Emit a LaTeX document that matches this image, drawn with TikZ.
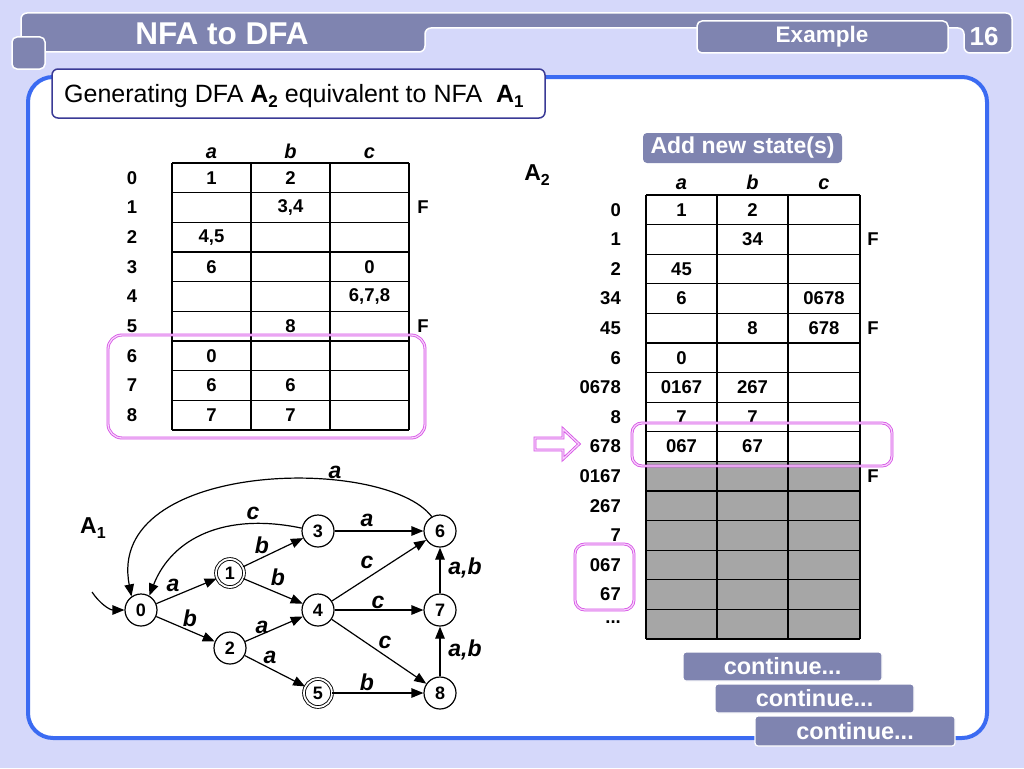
\documentclass[tikz,border=0pt]{standalone}
\usepackage{fontspec}
\setmainfont{Liberation Sans}
\usetikzlibrary{arrows.meta}
\definecolor{bgc}{HTML}{D5D8FA}
\definecolor{hdr}{HTML}{7F84B0}
\definecolor{panelblue}{HTML}{3B6BF2}
\definecolor{subb}{HTML}{3A3A96}
\definecolor{pinkc}{HTML}{D64FE6}
\definecolor{pinkl}{HTML}{F6D2FA}
\definecolor{greyc}{HTML}{A6A6A6}
\newcommand{\mysub}[2]{\raisebox{-0.35ex}{\fontsize{#1}{#1}\selectfont #2}}
\begin{document}
\begin{tikzpicture}[x=1pt,y=-1pt,
  tl/.style={line width=1.1pt, black},
  cell/.style={font=\fontsize{18.5}{20}\selectfont\bfseries, inner sep=0pt},
  hd/.style={font=\fontsize{20}{22}\selectfont\bfseries\itshape, inner sep=0pt, anchor=base},
  st/.style={circle, draw, line width=1.2pt, minimum size=32pt, inner sep=0pt, fill=white, font=\fontsize{18}{20}\selectfont\bfseries},
  acc/.style={st, line width=0.9pt, double, double distance=1.8pt, minimum size=28pt},
  el/.style={font=\fontsize{23}{25}\selectfont\bfseries\itshape, inner sep=0pt},
  arr/.style={-{Triangle[length=12pt,width=9.5pt]}, line width=1.2pt},
  hl/.style={draw=pinkc, double=pinkl, double distance=1.3pt, line width=0.8pt},
  btn/.style={rectangle, rounded corners=3pt, fill=hdr, draw=white, line width=1.2pt, text=white, font=\fontsize{23.5}{25}\selectfont\bfseries}
  ]
% background
\fill[bgc] (0,0) rectangle (1024,768);
\useasboundingbox (0,0) rectangle (1024,768);
% header
\draw[white, line width=1.5pt, fill=hdr, rounded corners=6pt] (21,52) -- (21,13) -- (1012,13) -- (1012,53) -- (964,53) -- (964,28) -- (425,28) -- (425,52) -- cycle;
\node[rectangle, rounded corners=5pt, fill=hdr, draw=white, line width=1.5pt, minimum width=251pt, minimum height=32pt] (extab) at (822.5,37) {};
\draw[white, line width=1.5pt, fill=hdr, rounded corners=5pt] (12,37) rectangle (45,69);
\node[text=white, font=\fontsize{31.5}{33}\selectfont\bfseries] (title) at (222,34) {NFA to DFA};
\node[text=white, font=\fontsize{22.5}{24}\selectfont\bfseries] (extext) at (822,37) {Example};
\node[text=white, font=\fontsize{26}{28}\selectfont\bfseries] (pageno) at (984,37) {16};
% main panel
\draw[panelblue, line width=4pt, fill=white, rounded corners=25pt] (28,77) rectangle (987,738);
% subtitle
\draw[subb, line width=1.5pt, fill=white, rounded corners=6pt] (52,69) rectangle (545,118);
\node[anchor=west, font=\fontsize{25}{27}\selectfont, inner sep=0pt] (subtitle) at (64,96) {Generating DFA \textbf{A\mysub{17}{2}} equivalent to NFA\ \ \textbf{A\mysub{17}{1}}};

% ---------- left table (NFA A1) ----------
\foreach \i in {0,1,2,3,4,5,6,7,8,9} \draw[tl] (172,{163+\i*29.67}) -- (409,{163+\i*29.67});
\foreach \x in {172,251,330,409} \draw[tl] (\x,163) -- (\x,430);
\node[hd] (la) at (211.5,158) {a};
\node[hd] (lb) at (290.5,158) {b};
\node[hd] (lc) at (369.5,158) {c};
\foreach \r in {0,1,2,3,4,5,6,7,8} \node[cell] (lr\r) at (132,{177.8+29.67*\r}) {\r};
\node[cell] (l01) at (211.5,177.8) {1};
\node[cell] (l02) at (290.5,177.8) {2};
\node[cell] (l12) at (290.5,207.5) {3,4};
\node[cell] (l21) at (211.5,237.2) {4,5};
\node[cell] (l31) at (211.5,266.8) {6};
\node[cell] (l33) at (369.5,266.8) {0};
\node[cell] (l43) at (369.5,296.5) {6,7,8};
\node[cell] (l52) at (290.5,326.2) {8};
\node[cell] (l61) at (211.5,355.8) {0};
\node[cell] (l71) at (211.5,385.5) {6};
\node[cell] (l72) at (290.5,385.5) {6};
\node[cell] (l81) at (211.5,415.2) {7};
\node[cell] (l82) at (290.5,415.2) {7};
\node[cell] (lf1) at (423,207.5) {F};
\node[cell] (lf5) at (423,326.2) {F};
\draw[hl, rounded corners=14pt] (108,335) rectangle (425,438);

% ---------- right table (DFA A2) ----------
\node[rectangle, rounded corners=4pt, fill=hdr, minimum width=199pt, minimum height=30pt, text=white, font=\fontsize{23}{25}\selectfont\bfseries] (addnew) at (742.5,148) {Add new state(s)};
\node[font=\fontsize{23}{25}\selectfont\bfseries, inner sep=0pt] (A2) at (537,175) {A\mysub{16}{2}};
\fill[greyc] (646,{195+9*29.6}) rectangle (860,{195+15*29.6});
\foreach \i in {0,1,2,3,4,5,6,7,8,9,10,11,12,13,14,15} \draw[tl] (646,{195+\i*29.6}) -- (860,{195+\i*29.6});
\foreach \x in {646,717,788,860} \draw[tl] (\x,195) -- (\x,{195+15*29.6});
\node[hd] (ra) at (681.5,189) {a};
\node[hd] (rb) at (752.5,189) {b};
\node[hd] (rc) at (824,189) {c};
\foreach \lab [count=\i from 0] in {0,1,2,34,45,6,0678,8,678,0167,267,7,067,67}
  \node[cell, anchor=east] (rr\i) at (621,{209.8+29.6*\i}) {\lab};
\node[cell, anchor=east] (rr14) at (621,622) {{.}{.}{.}};
\node[cell] (r01) at (681.5,209.8) {1};
\node[cell] (r02) at (752.5,209.8) {2};
\node[cell] (r12) at (752.5,239.4) {34};
\node[cell] (r21) at (681.5,269) {45};
\node[cell] (r31) at (681.5,298.6) {6};
\node[cell] (r33) at (824,298.6) {0678};
\node[cell] (r42) at (752.5,328.2) {8};
\node[cell] (r43) at (824,328.2) {678};
\node[cell] (r51) at (681.5,357.8) {0};
\node[cell] (r61) at (681.5,387.4) {0167};
\node[cell] (r62) at (752.5,387.4) {267};
\node[cell] (r71) at (681.5,417) {7};
\node[cell] (r72) at (752.5,417) {7};
\node[cell] (r81) at (681.5,446.6) {067};
\node[cell] (r82) at (752.5,446.6) {67};
\node[cell] (rf1) at (873,239.4) {F};
\node[cell] (rf4) at (873,328.2) {F};
\node[cell] (rf9) at (873,476.2) {F};
\draw[hl, rounded corners=10pt] (632,423) rectangle (892,466);
\draw[hl, rounded corners=10pt] (575,544) rectangle (634,610);
\draw[hl] (535,438) -- (563,438) -- (563,429) -- (579,444) -- (563,459) -- (563,450) -- (535,450) -- cycle;

% ---------- NFA graph ----------
\node[font=\fontsize{23}{25}\selectfont\bfseries, inner sep=0pt] (A1) at (93,528) {A\mysub{16}{1}};
\node[st] (n0) at (141,610) {0};
\node[acc] (n1) at (230,573) {1};
\node[st] (n2) at (230,648) {2};
\node[st] (n3) at (318,531) {3};
\node[st] (n4) at (318,610) {4};
\node[acc] (n5) at (318,693) {5};
\node[st] (n6) at (440,531) {6};
\node[st] (n7) at (440,610) {7};
\node[st] (n8) at (440,693) {8};
\coordinate (s0) at (92,592);
\draw[arr] (s0) .. controls (100,604) and (110,610) .. (n0.west);
\draw[arr] (n0) -- (n1);
\draw[arr] (n0) -- (n2);
\draw[arr] (n1) -- (n3);
\draw[arr] (n1) -- (n4);
\draw[arr] (n2) -- (n4);
\draw[arr] (n2) -- (n5);
\draw[arr] (n3) -- (n6);
\draw[arr] (n4) -- (n6);
\draw[arr] (n4) -- (n7);
\draw[arr] (n4) -- (n8);
\draw[arr] (n5) -- (n8);
\draw[arr] (n7) -- (n6);
\draw[arr] (n8) -- (n7);
\draw[arr] (n3.170) .. controls (225,512) and (172,538) .. (n0.60);
\draw[arr] (n6.120) .. controls (385,455) and (105,460) .. (n0.125);
\node[el] (e01) at (173,585) {a};
\node[el] (e02) at (190,618) {b};
\node[el] (e13) at (262,545) {b};
\node[el] (e14) at (278,577) {b};
\node[el] (e24) at (262,627) {a};
\node[el] (e25) at (270,657) {a};
\node[el] (e36) at (367,520) {a};
\node[el] (e46) at (367,562) {c};
\node[el] (e47) at (378,602) {c};
\node[el] (e48) at (385,642) {c};
\node[el] (e58) at (367,682) {b};
\node[el] (e76) at (465,568) {a,b};
\node[el] (e87) at (465,650) {a,b};
\node[el] (e30) at (253,513) {c};
\node[el] (e60) at (335,472) {a};

% ---------- continue buttons ----------
\node[btn, minimum width=199pt, minimum height=29pt] (c1) at (782.5,666.5) {continue...};
\node[btn, minimum width=199pt, minimum height=29pt] (c2) at (814.5,698.5) {continue...};
\node[btn, minimum width=200pt, minimum height=30pt] (c3) at (855,731) {continue...};
\end{tikzpicture}
\end{document}
